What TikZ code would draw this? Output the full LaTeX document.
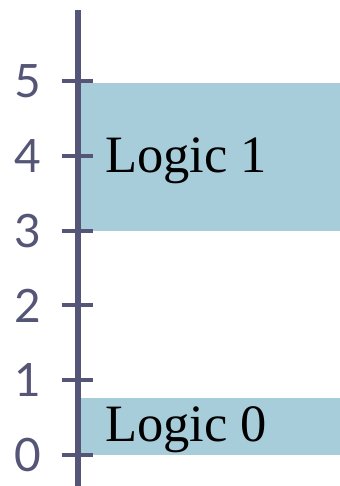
\documentclass[tikz,border=0pt]{standalone}
\usepackage{fontspec}
\setmainfont{Liberation Serif}
\newfontfamily\digitfont{Lato}
\definecolor{axiscol}{HTML}{555577}
\definecolor{boxcol}{HTML}{A7CCDA}
\begin{document}
\begin{tikzpicture}[x=1pt,y=74.8pt,
  levelbox/.style={fill=boxcol},
  ticklab/.style={font=\digitfont\fontsize{46}{46}\selectfont, text=axiscol, inner sep=0pt},
  logiclab/.style={font=\fontsize{52.5}{52.5}\selectfont, text=black, inner sep=0pt, anchor=base west},
  tickmark/.style={draw=axiscol, line width=4pt}]
\useasboundingbox (-78,-0.4144) rectangle (262,6.083);
\fill[levelbox] (0,3) rectangle (262,4.97);
\fill[levelbox] (0,0) rectangle (262,0.76);
\node[logiclab] (l1) at (27,3.783) {Logic 1};
\node[logiclab] (l0) at (27,0.174) {Logic 0};
\coordinate (atop) at (0,5.949);
\coordinate (abot) at (0,-0.45);
\draw[axiscol, line width=6pt] (abot) -- (atop);
\foreach \i in {0,...,5}{
  \coordinate (tl\i) at (-16,\i);
  \coordinate (tr\i) at (15,\i);
  \draw[tickmark] (tl\i) -- (tr\i);
  \node[ticklab] (n\i) at (-50,\i) {\i};
}
\end{tikzpicture}
\end{document}
